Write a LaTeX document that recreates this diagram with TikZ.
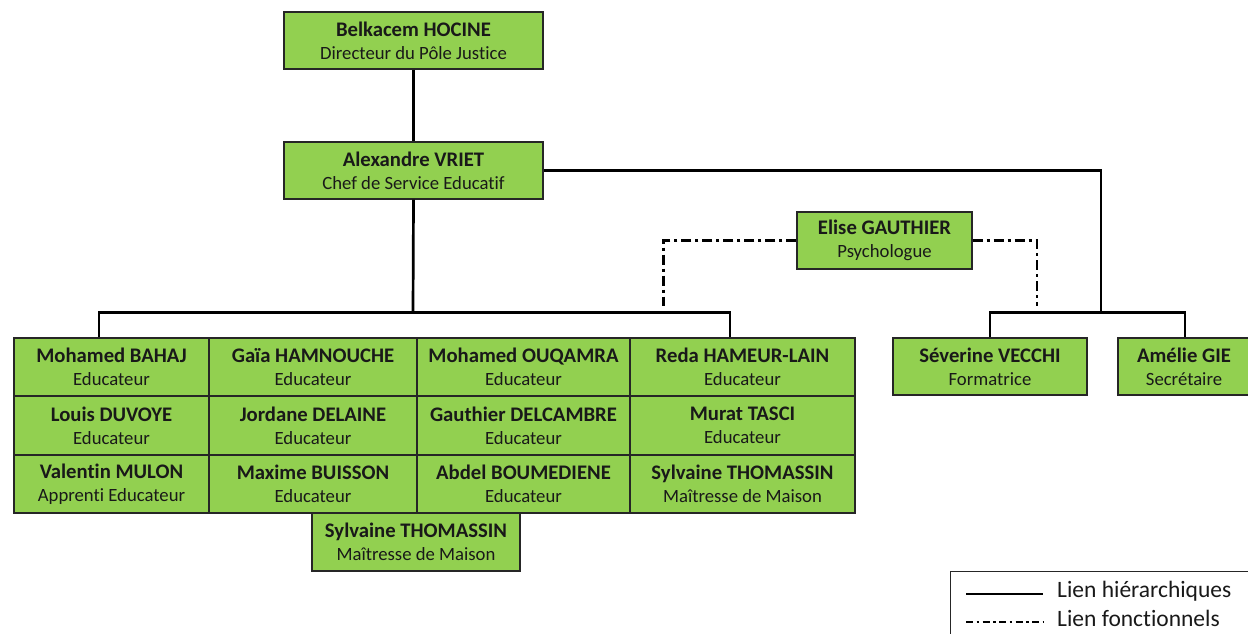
\documentclass[tikz,border=0pt]{standalone}
\usepackage{fontspec}
\setmainfont[Ligatures={CommonOff}]{Carlito}
\definecolor{cgreen}{HTML}{92D050}
\definecolor{cborder}{HTML}{262626}
\newcommand\persontext[2]{{\fontsize{20.7}{23}\selectfont\bfseries #1}\\{\fontsize{18.7}{23}\selectfont #2}}
\newcommand\cellnode[7]{\node[person, minimum width={#4-#2}, minimum height={#5-#3}] (#1) at ({(#2+#4)/2},{(#3+#5)/2}) {\persontext{#6}{#7}};}
\tikzset{
  person/.style={draw=cborder, line width=1.3pt, fill=cgreen, inner sep=0pt, align=center, text=black!90, font=\fontsize{18.7}{23}\selectfont},
  hier/.style={draw=black, line width=2.7pt},
  fonc/.style={draw=black, line width=2.3pt, dash pattern=on 10pt off 4pt on 3pt off 4pt},
}
\begin{document}
\begin{tikzpicture}[x=1pt,y=-1pt]
\useasboundingbox (0,0) rectangle (1248,634);
% top
\cellnode{belk}{284}{12}{543}{69}{Belkacem HOCINE}{Directeur du Pôle Justice}
\cellnode{alex}{284}{142}{543}{199}{Alexandre VRIET}{Chef de Service Educatif}
\cellnode{elise}{797}{212}{972}{269}{Elise GAUTHIER}{Psychologue}
\cellnode{sv}{893}{338}{1087}{395}{Séverine VECCHI}{Formatrice}
\cellnode{ag}{1118}{338}{1250}{395}{Amélie GIE}{Secrétaire}
% grid
\cellnode{mb}{14}{338}{209}{396}{Mohamed BAHAJ}{Educateur}
\cellnode{gh}{209}{338}{417}{396}{Gaïa HAMNOUCHE}{Educateur}
\cellnode{mo}{417}{338}{630}{396}{Mohamed OUQAMRA}{Educateur}
\cellnode{rh}{630}{338}{855}{396}{Reda HAMEUR-LAIN}{Educateur}
\cellnode{ld}{14}{396}{209}{455}{Louis DUVOYE}{Educateur}
\cellnode{jd}{209}{396}{417}{455}{Jordane DELAINE}{Educateur}
\cellnode{gd}{417}{396}{630}{455}{Gauthier DELCAMBRE}{Educateur}
\cellnode{mt}{630}{396}{855}{455}{Murat TASCI}{Educateur}
\cellnode{vm}{14}{455}{209}{513}{Valentin MULON}{Apprenti Educateur}
\cellnode{mxb}{209}{455}{417}{513}{Maxime BUISSON}{Educateur}
\cellnode{ab}{417}{455}{630}{513}{Abdel BOUMEDIENE}{Educateur}
\cellnode{st}{630}{455}{855}{513}{Sylvaine THOMASSIN}{Maîtresse de Maison}
\cellnode{st2}{312}{513}{520}{571}{Sylvaine THOMASSIN}{Maîtresse de Maison}
% hierarchical links
\draw[hier] (belk.south) -- (alex.north);
\coordinate (jL) at (413,312.5);
\coordinate (jR) at (1101,312.5);
\draw[hier] (alex.south) -- (jL);
\draw[hier] ([xshift=-12.5pt]mb.north) |- (jL) -| ([xshift=-12.5pt]rh.north);
\draw[hier] (alex.east) -| (jR);
\draw[hier] (sv.north) |- (jR) -| ([xshift=1pt]ag.north);
% functional links
\coordinate (fL) at (663.5,306);
\coordinate (fR) at (1037,306);
\draw[fonc] (elise.west) -| (fL);
\draw[fonc] (elise.east) -| (fR);
% legend
\node[draw=cborder, line width=1.3pt, anchor=north west, minimum width=320pt, minimum height=80pt, inner sep=0pt] (legend) at (950,571) {};
\coordinate (l1a) at (966,594);
\coordinate (l1b) at (1043,594);
\coordinate (l2a) at (966,622);
\coordinate (l2b) at (1043,622);
\draw[black, line width=2.3pt] (l1a) -- (l1b);
\draw[black, line width=2.3pt, dash pattern=on 7pt off 3.5pt on 2.5pt off 3.5pt] (l2a) -- (l2b);
\node[anchor=base west, inner sep=0pt, font=\fontsize{23.5}{25}\selectfont, text=black!90] (t1) at (1057,597) {Lien hiérarchiques};
\node[anchor=base west, inner sep=0pt, font=\fontsize{23.5}{25}\selectfont, text=black!90] (t2) at (1057,626) {Lien fonctionnels};
\end{tikzpicture}
\end{document}
